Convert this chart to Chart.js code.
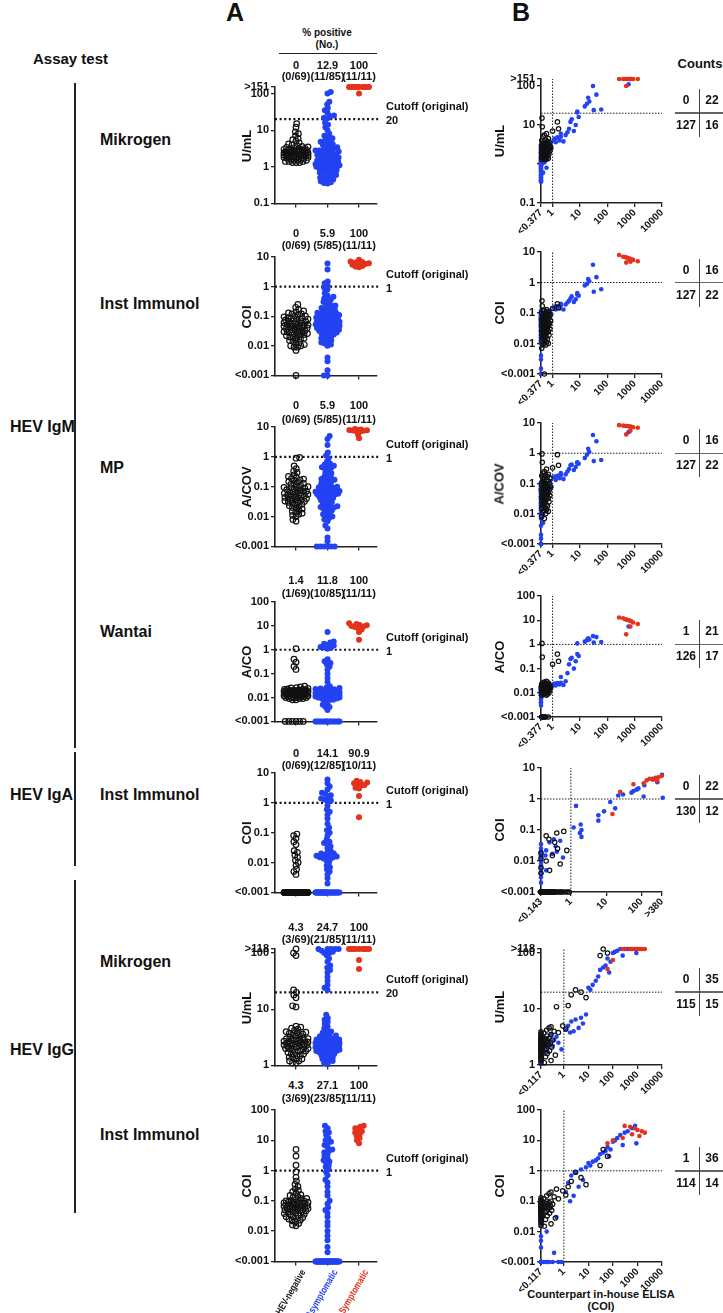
<!DOCTYPE html>
<html>
<head>
<meta charset="utf-8">
<script src="https://cdn.jsdelivr.net/npm/chart.js@4.4.1/dist/chart.umd.min.js"></script>
<style>
  body { margin: 0; background: #fff; }
  #page { position: relative; width: 723px; height: 1313px; overflow: hidden;
          font-family: 'Liberation Sans', Arial, sans-serif; font-weight: bold; color: #111; }
  .t { position: absolute; white-space: nowrap; transform: translate(-50%, -50%); line-height: 1; }
  .l { position: absolute; white-space: nowrap; transform: translate(0, -50%); line-height: 1; }
  .ln { position: absolute; background: #222; }
  .anchor { position: absolute; width: 0; height: 0; }
  .rot { position: absolute; right: 0; top: 0; white-space: nowrap; line-height: 1;
         transform-origin: 100% 0; transform: rotate(-60deg) scaleX(0.78); }
  canvas { position: absolute; }
</style>
</head>
<body>
<div id="page"></div>
<script>
var FONT = "'Liberation Sans', Arial, sans-serif";
var BLUE = '#2342f2', RED = '#e4321d', BLACK = '#111';

// ---- assay values (panel A, also y of panel B) ----
var neg1 = [15,12,9,8,7,6,5.5,5,4.5,4.2, 4,3.8,3.6,3.5,3.4,3.3,3.2,3.1,3,3, 2.9,2.9,2.8,2.8,2.7,2.7,2.6,2.6,2.6,2.5,
  2.5,2.5,2.4,2.4,2.4,2.4,2.3,2.3,2.3,2.3, 2.2,2.2,2.2,2.2,2.1,2.1,2.1,2,2,2, 1.9,1.9,1.9,1.8,1.8,1.8,1.7,1.7,1.6,1.6,
  1.5,1.5,1.5,1.4,1.4,1.4,1.3,1.3,1.3];
var pos1 = [110,100,60,50,40,35,30,25,24,22,21, 16,14,12,10,8,7,6.5,6,5.5,5, 4.8,4.5,4.2,4,3.8,3.6,3.4,3.2,3,3,
  2.8,2.8,2.6,2.6,2.5,2.4,2.3,2.2,2.1,2, 2,1.9,1.8,1.8,1.7,1.6,1.6,1.5,1.5,1.4, 1.4,1.3,1.3,1.2,1.2,1.2,1.1,1.1,1.1,1.1,
  1,1,1,0.95,0.9,0.9,0.85,0.8,0.8,0.75, 0.7,0.7,0.65,0.6,0.6,0.55,0.5,0.5,0.45,0.45, 0.4,0.38,0.36,0.35];
var sym1 = [151,151,151,151,151,151,151,151,151,151,100];

var neg2 = [0.25,0.2,0.17,0.15,0.14,0.13,0.12,0.12,0.11,0.1, 0.1,0.095,0.09,0.09,0.085,0.08,0.08,0.075,0.07,0.07,
  0.068,0.065,0.06,0.06,0.058,0.055,0.055,0.052,0.05,0.05, 0.048,0.046,0.045,0.044,0.042,0.04,0.04,0.038,0.036,0.035,
  0.034,0.032,0.03,0.03,0.029,0.028,0.027,0.026,0.025,0.024, 0.023,0.022,0.021,0.02,0.019,0.018,0.017,0.016,0.015,0.014,
  0.013,0.012,0.011,0.01,0.01,0.009,0.009,0.007,0.001];
var pos2 = [6,3.8,1.5,1.3,1.1, 0.9,0.8,0.6,0.5,0.45, 0.4,0.37,0.35,0.3,0.28,0.25,0.23,0.22,0.2,0.19,
  0.18,0.17,0.16,0.15,0.14,0.13,0.13,0.12,0.12,0.11, 0.11,0.1,0.1,0.095,0.09,0.09,0.085,0.08,0.08,0.075,
  0.072,0.07,0.068,0.065,0.062,0.06,0.06,0.058,0.055,0.052, 0.05,0.05,0.048,0.046,0.044,0.042,0.04,0.04,0.038,0.036,
  0.035,0.034,0.032,0.03,0.03,0.028,0.026,0.025,0.024,0.022, 0.02,0.019,0.018,0.016,0.015,0.014,0.013,0.012,0.011,0.01,
  0.004,0.003,0.0015,0.001,0.001];
var sym2 = [8,7,6.8,6.5,6.2,6,5.8,5.5,5,4.8,4.5];

var neg3 = [0.95,0.9,0.5,0.4,0.33,0.3,0.25,0.22,0.2,0.19, 0.18,0.17,0.16,0.15,0.14,0.13,0.12,0.12,0.11,0.1,
  0.1,0.095,0.09,0.09,0.085,0.08,0.08,0.075,0.07,0.07, 0.068,0.065,0.062,0.06,0.058,0.055,0.053,0.05,0.05,0.048,
  0.046,0.044,0.042,0.04,0.04,0.038,0.036,0.035,0.033,0.032, 0.03,0.03,0.028,0.026,0.025,0.023,0.022,0.02,0.019,0.018,
  0.016,0.015,0.014,0.013,0.012,0.011,0.01,0.008,0.007];
var pos3 = [5,4,2.5,1.4,1.1, 0.9,0.7,0.6,0.55,0.5, 0.48,0.45,0.42,0.4,0.35,0.3,0.28,0.25,0.22,0.2,
  0.19,0.18,0.17,0.16,0.15,0.14,0.13,0.12,0.11,0.1, 0.1,0.095,0.09,0.085,0.08,0.075,0.072,0.07,0.068,0.066,
  0.065,0.064,0.063,0.062,0.06,0.058,0.056,0.054,0.052,0.05, 0.048,0.045,0.042,0.04,0.038,0.035,0.032,0.03,0.028,0.025,
  0.023,0.022,0.021,0.02,0.019,0.018,0.016,0.015,0.013,0.012, 0.011,0.01,0.009,0.008,0.007,0.005,0.004,0.002,0.0015,0.001,
  0.001,0.001,0.001,0.001,0.001];
var sym3 = [8.5,8.2,8,8,7.8,7.6,7.5,7.2,7,5.5,4.2];

var neg4 = [1.1,0.4,0.3,0.2,0.15, 0.03,0.028,0.026,0.025,0.024, 0.023,0.022,0.022,0.021,0.021,0.02,0.02,0.02,0.019,0.019,
  0.019,0.018,0.018,0.018,0.018,0.017,0.017,0.017,0.017,0.016, 0.016,0.016,0.016,0.015,0.015,0.015,0.015,0.014,0.014,0.014,
  0.014,0.013,0.013,0.013,0.013,0.012,0.012,0.012,0.012,0.011, 0.011,0.011,0.011,0.01,0.01,0.01,0.01,0.01,0.009,0.009,
  0.009,0.008,0.008,0.001,0.001,0.001,0.001,0.001,0.001];
var pos4 = [5.5,2.2,2,1.8,1.6,1.5,1.3,1.25,1.2,1.1, 0.4,0.33,0.28,0.25,0.2,0.15,0.1,0.065,0.045,0.03,
  0.026,0.025,0.024,0.023,0.022,0.021,0.02,0.02,0.02,0.019, 0.019,0.018,0.018,0.018,0.017,0.017,0.017,0.016,0.016,0.016,
  0.016,0.015,0.015,0.015,0.014,0.014,0.014,0.013,0.013,0.013, 0.012,0.012,0.012,0.011,0.011,0.011,0.01,0.01,0.01,0.009,
  0.009,0.008,0.008,0.007,0.006,0.005,0.004,0.004,0.003,0.001, 0.001,0.001,0.001,0.001,0.001,0.001,0.001,0.001,0.001,0.001,
  0.001,0.001,0.001,0.001,0.001];
var sym4 = [13,12,11,10.5,10,9.5,9,8,7,5.5,2.6];

var neg5 = [0.09,0.08,0.065,0.05,0.04,0.025,0.022,0.018,0.015,0.012,0.01,0.008,0.006,0.005,0.004,
  0.001,0.001,0.001,0.001,0.001,0.001,0.001,0.001,0.001,0.001, 0.001,0.001,0.001,0.001,0.001,0.001,0.001,0.001,0.001,0.001,
  0.001,0.001,0.001,0.001,0.001,0.001,0.001,0.001,0.001,0.001, 0.001,0.001,0.001,0.001,0.001,0.001,0.001,0.001,0.001,0.001,
  0.001,0.001,0.001,0.001,0.001,0.001,0.001,0.001,0.001,0.001, 0.001,0.001,0.001,0.001];
var pos5 = [6,4.5,3.5,2.8,2.2,2,1.8,1.6,1.4,1.3,1.2,1.1, 0.8,0.6,0.5,0.4,0.3,0.2,0.15,0.12,0.1,0.08,
  0.06,0.05,0.045,0.04,0.035,0.03,0.025,0.022,0.02,0.02, 0.018,0.018,0.017,0.016,0.016,0.015,0.015,0.014,0.013,0.012,
  0.01,0.008,0.007,0.006,0.005,0.004,0.003,0.002,
  0.001,0.001,0.001,0.001,0.001,0.001,0.001,0.001,0.001,0.001, 0.001,0.001,0.001,0.001,0.001,0.001,0.001,0.001,0.001,0.001,
  0.001,0.001,0.001,0.001,0.001,0.001,0.001,0.001,0.001,0.001, 0.001,0.001,0.001,0.001,0.001];
var sym5 = [5.5,5,4.8,4.5,4.2,4,3.8,3.2,3,1.7,0.33];

var neg6 = [118,100,90,22,20,18,16,11.5,11,5, 4.8,4.6,4.4,4.2,4,3.9,3.8,3.7,3.6,3.5, 3.4,3.3,3.2,3.1,3,3,2.9,2.9,2.8,2.8,
  2.7,2.7,2.6,2.6,2.5,2.5,2.5,2.4,2.4,2.4, 2.3,2.3,2.3,2.2,2.2,2.2,2.1,2.1,2,2, 2,1.9,1.9,1.8,1.8,1.7,1.7,1.6,1.6,1.5,
  1.5,1.4,1.4,1.3,1.3,1.2,1.2,1.1,1.1];
var pos6 = [118,118,118,118,118,110,105,100,100,90, 80,70,60,55,50,45,38,32,27,24, 22, 8,7,6.5,6,5.5,5,4.6,4.3,4,
  3.8,3.6,3.5,3.4,3.3,3.2,3.1,3,3,2.9, 2.9,2.8,2.8,2.7,2.7,2.6,2.6,2.5,2.5,2.5, 2.4,2.4,2.4,2.3,2.3,2.3,2.2,2.2,2.2,2.1,
  2.1,2.1,2,2,2,1.9,1.9,1.9,1.8,1.8, 1.8,1.7,1.7,1.6,1.6,1.5,1.5,1.4,1.4,1.3, 1.3,1.2,1.2,1.1,1.05];
var sym6 = [118,118,118,118,118,118,118,118,118,75,52];

var neg7 = [5,3,1.5,0.9,0.6,0.45,0.35,0.3,0.25,0.22, 0.2,0.18,0.16,0.15,0.14,0.13,0.12,0.12,0.11,0.1,
  0.1,0.1,0.095,0.09,0.09,0.09,0.085,0.085,0.08,0.08, 0.08,0.075,0.075,0.07,0.07,0.07,0.068,0.066,0.065,0.063,
  0.06,0.06,0.058,0.056,0.055,0.053,0.05,0.05,0.048,0.046, 0.045,0.043,0.04,0.04,0.038,0.036,0.035,0.033,0.03,0.03,
  0.028,0.026,0.025,0.023,0.022,0.02,0.018,0.016,0.015];
var pos7 = [30,25,20,18,15,12,10,9,8,7, 6,5,4.5,4,3.5,3,2.6,2.2,2,1.8, 1.5,1.3,1.1,
  0.9,0.7,0.5,0.4,0.3,0.2,0.15, 0.1,0.08,0.06,0.05,0.04,0.03,0.02,0.015,0.01,0.007, 0.005,0.003,0.002,
  0.001,0.001,0.001,0.001,0.001,0.001,0.001,0.001,0.001,0.001, 0.001,0.001,0.001,0.001,0.001,0.001,0.001,0.001,0.001,0.001,
  0.001,0.001,0.001,0.001,0.001,0.001,0.001,0.001,0.001,0.001, 0.001,0.001,0.001,0.001,0.001,0.001,0.001,0.001,0.001,0.001,
  0.001,0.001];
var sym7 = [30,28,25,22,20,18,16,14,12,10,8];

// ---- counterpart in-house ELISA (x of panel B), same sample order ----
var igmNegX = [0.41,1.5,0.42,1.65,1,0.6,0.5,0.45,0.7,0.55, 0.4,0.65,0.5,0.8,0.45,0.6,0.7,0.5,0.42,0.55,
  0.75,0.48,0.62,0.4,0.52,0.85,0.45,0.58,0.68,0.5, 0.42,0.78,0.55,0.47,0.62,0.4,0.5,0.72,0.58,0.45,
  0.66,0.52,0.42,0.8,0.56,0.48,0.6,0.4,0.7,0.5, 0.44,0.62,0.54,0.4,0.74,0.5,0.46,0.58,0.42,0.65,
  0.52,0.4,0.6,0.48,0.7,0.44,0.56,0.4,0.5];
var igmAsymX = [600,30,40,20,22,18,15,60,32,8, 8,9,5,4.5,7,4,6,3.5,2,3, 2,1.5,1.2,1.1,1.8,2.5,1.3,
  0.8,0.377,0.6,0.377,0.377,0.5,0.377,0.377,0.9,0.377, 0.377,0.45,0.377,0.377,0.7,0.377,0.377,0.377,0.55,0.377,
  0.377,0.377,0.42,0.377,0.377,0.377,0.65,0.377,0.377,0.377, 0.377,0.5,0.377,0.377,0.377,0.377,0.4,0.377,0.377,0.377,
  0.377,0.377,0.6,0.377,0.377,0.377,0.377,0.377,0.45,0.377, 0.377,0.377,0.377,0.377,0.377,0.377,0.377,0.377];
var igmSymX = [270,380,450,530,600,680,750,880,1300,700,490];

var igaNegX = [0.63,0.4,0.2,0.24,0.35,0.42,0.77,0.143,0.3,0.143,0.2,0.5,0.143,0.25,0.143,
  0.143,0.16,0.18,0.2,0.22,0.25,0.28,0.3,0.33,0.36, 0.4,0.45,0.5,0.55,0.6,0.7,0.8,0.9,0.143,0.15,
  0.17,0.19,0.21,0.24,0.27,0.143,0.143,0.16,0.18,0.143, 0.2,0.23,0.143,0.26,0.143,0.3,0.143,0.35,0.143,0.143,
  0.143,0.143,0.143,0.143,0.143,0.143,0.143,0.143,0.143,0.143, 0.143,0.143,0.143,0.143];
var igaAsymX = [380,210,280,120,82,72,59,52,30,22,115,400, 13,1.4,18,8.7,6,6,1.9,1.2,2,1.8,2,
  0.33,0.5,0.25,0.143,0.37,0.143,0.2,0.143,0.4,0.143, 0.143,0.3,0.143,0.143,0.19,0.143,0.143,0.6,0.143,0.143,
  0.143,0.143,0.143,0.2,0.143,0.143,0.143,
  0.143,0.2,0.143,0.3,0.143,0.143,0.18,0.143,0.143,0.25, 0.143,0.143,0.143,0.143,0.5,0.143,0.143,0.143,0.16,0.143,
  0.143,0.143,0.143,0.143,0.143,0.143,0.143,0.143,0.143,0.143, 0.143,0.143,0.143,0.143,0.143];
var igaSymX = [370,300,250,170,210,140,280,115,59,25,15];

var iggNegX = [40,60,30,3,5,2,8,1.5,0.5,0.9, 0.3,0.25,1.2,0.2,0.4,0.117,0.6,0.15,0.117,0.3,
  0.117,0.2,0.13,0.117,0.25,0.117,0.18,0.117,0.14,0.35, 0.117,0.22,0.117,0.16,0.117,0.28,0.117,0.12,0.19,0.117,
  0.117,0.24,0.117,0.15,0.117,0.13,0.32,0.117,0.2,0.117, 0.117,0.17,0.117,0.26,0.117,0.14,0.117,0.21,0.117,0.117,
  0.45,0.117,0.18,0.117,0.12,0.117,0.3,0.117,0.16];
var iggAsymX = [800,600,400,300,200,150,120,100,900,250, 60,80,50,40,30,70,25,20,15,10, 12,8,5,3,2,6,1.5,4,1.2,2.5,
  1.8,0.117,0.3,0.117,0.117,0.5,0.117,0.117,0.2,0.117, 0.117,0.117,0.4,0.117,0.117,0.15,0.117,0.117,0.117,0.6,
  0.117,0.117,0.25,0.117,0.117,0.117,0.117,0.35,0.117,0.117, 0.117,0.18,0.117,0.117,0.117,0.117,0.117,0.8,0.117,0.117,
  0.117,0.117,0.22,0.117,0.117,0.117,0.117,0.117,0.117,0.117, 0.117,0.117,0.117,0.117,0.117];
var iggSymX = [300,500,800,1000,1500,2000,600,1200,250,100,60];

// ---- ticks, labels, texts ----
var yt151 = [151,100,10,1,0.1], yl151 = ['>151','100','10','1','0.1'];
var yt10 = [10,1,0.1,0.01,0.001], yl10 = ['10','1','0.1','0.01','<0.001'];
var yt100 = [100,10,1,0.1,0.01,0.001], yl100 = ['100','10','1','0.1','0.01','<0.001'];
var yt118 = [118,100,10,1], yl118 = ['>118','100','10','1'];
var xtIgm = [0.377,1,10,100,1000,10000], xlIgm = ['<0.377','1','10','100','1000','10000'];
var xtIga = [0.143,1,10,100,380], xlIga = ['<0.143','1','10','100','>380'];
var xtIgg = [0.117,1,10,100,1000,10000], xlIgg = ['<0.117','1','10','100','1000','10000'];

var groups = ['HEV-negative','Asymptomatic','Symptomatic'];
var assays = ['Mikrogen','Inst Immunol','MP','Wantai','Inst Immunol','Mikrogen','Inst Immunol'];
var units = ['U/mL','COI','A/COV','A/CO','COI','U/mL','COI'];
var cutoffs = [20,1,1,1,1,20,1];
var pctPos = [['0','12.9','100'],['0','5.9','100'],['0','5.9','100'],['1.4','11.8','100'],
  ['0','14.1','90.9'],['4.3','24.7','100'],['4.3','27.1','100']];
var nPos = [['(0/69)','(11/85)','(11/11)'],['(0/69)','(5/85)','(11/11)'],['(0/69)','(5/85)','(11/11)'],
  ['(1/69)','(10/85)','(11/11)'],['(0/69)','(12/85)','(10/11)'],['(3/69)','(21/85)','(11/11)'],['(3/69)','(23/85)','(11/11)']];
var counts = [[0,22,127,16],[0,16,127,22],[0,16,127,22],[1,21,126,17],[0,22,130,12],[0,35,115,15],[1,36,114,14]];

var rowVals = [[neg1,pos1,sym1],[neg2,pos2,sym2],[neg3,pos3,sym3],[neg4,pos4,sym4],[neg5,pos5,sym5],[neg6,pos6,sym6],[neg7,pos7,sym7]];
var rowYT = [yt151,yt10,yt10,yt100,yt10,yt118,yt100];
var rowYL = [yl151,yl10,yl10,yl100,yl10,yl118,yl100];
var rowYLB = [['>151','100','10','','0.1'],yl10,yl10,yl100,yl10,yl118,yl100];
var inHouse = {
  igm: { x: [igmNegX, igmAsymX, igmSymX], ticks: xtIgm, labels: xlIgm },
  iga: { x: [igaNegX, igaAsymX, igaSymX], ticks: xtIga, labels: xlIga },
  igg: { x: [iggNegX, iggAsymX, iggSymX], ticks: xtIgg, labels: xlIgg }
};
var rowClass = ['igm','igm','igm','igm','iga','igg','igg'];

// ---- layout (pixels) ----
var aLay = [{top:87,bot:204,hdr:[65,76]},{top:257,bot:376,hdr:[233,245]},{top:427,bot:547,hdr:[405,419]},
  {top:602,bot:722,hdr:[580,593]},{top:773,bot:893,hdr:[753,765]},{top:949,bot:1066,hdr:[927,939]},{top:1110,bot:1262,hdr:[1085,1098]}];
var bLay = [{top:79,bot:203},{top:252,bot:374},{top:423,bot:544},{top:596,bot:717},{top:768,bot:892},{top:949,bot:1065},{top:1110,bot:1262}];
var assayY = [140,304,468,632,795,962,1135];
var groupColors = [BLACK, BLUE, RED];

Chart.defaults.font.family = FONT;
Chart.defaults.font.weight = 'bold';
Chart.defaults.color = '#111';

var page = document.getElementById('page');

function put(s, x, y, size, cls, color, transform) {
  var d = document.createElement('div');
  d.className = cls || 't';
  d.textContent = s;
  d.style.left = x + 'px';
  d.style.top = y + 'px';
  d.style.fontSize = size + 'px';
  if (color) d.style.color = color;
  if (transform) d.style.transform = transform;
  page.appendChild(d);
  return d;
}

function bar(x, y, w, h, color) {
  var d = document.createElement('div');
  d.className = 'ln';
  d.style.left = x + 'px'; d.style.top = y + 'px';
  d.style.width = w + 'px'; d.style.height = h + 'px';
  if (color) d.style.background = color;
  page.appendChild(d);
}

// rotated category label whose end sits at (x, y)
function slanted(s, x, y, size, color) {
  var a = document.createElement('div');
  a.className = 'anchor';
  a.style.left = x + 'px'; a.style.top = y + 'px';
  var d = document.createElement('div');
  d.className = 'rot';
  d.textContent = s;
  d.style.fontSize = size + 'px';
  d.style.color = color;
  a.appendChild(d);
  page.appendChild(a);
}

var cutoffPlugin = {
  id: 'cutoffs',
  beforeDatasetsDraw: function (chart, args, o) {
    var ctx = chart.ctx, a = chart.chartArea;
    ctx.save();
    ctx.strokeStyle = o.color || '#111';
    ctx.lineWidth = o.width || 1;
    ctx.setLineDash(o.dash || [2, 2]);
    if (o.y != null) {
      var py = chart.scales.y.getPixelForValue(o.y);
      ctx.beginPath(); ctx.moveTo(a.left, py); ctx.lineTo(a.right + (o.extend || 0), py); ctx.stroke();
    }
    if (o.x != null) {
      var px = chart.scales.x.getPixelForValue(o.x);
      ctx.beginPath(); ctx.moveTo(px, a.bottom); ctx.lineTo(px, a.top); ctx.stroke();
    }
    ctx.restore();
  }
};

function logAxis(ticks, labels, opts) {
  return {
    type: 'logarithmic',
    min: Math.min.apply(null, ticks),
    max: Math.max.apply(null, ticks),
    afterBuildTicks: function (s) { s.ticks = ticks.map(function (v) { return { value: v }; }); },
    afterFit: function (s) { if (opts.width) s.width = opts.width; if (opts.height) s.height = opts.height; },
    grid: { drawOnChartArea: false, drawTicks: true, tickLength: 4, color: '#222', lineWidth: 1.3 },
    border: { display: true, color: '#222', width: 1.6 },
    ticks: {
      autoSkip: false, padding: opts.pad != null ? opts.pad : 2, color: '#111',
      minRotation: opts.rot || 0, maxRotation: opts.rot || 0,
      font: { family: FONT, size: opts.size || 11, weight: 'bold' },
      callback: function (v, i) { return labels[i]; }
    }
  };
}

// simple beeswarm: spread points of one column sideways so they do not overlap
function swarm(chart, dsIdx, center, d, maxHalf) {
  var ds = chart.data.datasets[dsIdx];
  var ys = chart.scales.y, xs = chart.scales.x;
  var unit = xs.getPixelForValue(1) - xs.getPixelForValue(0);
  var pts = ds.data.map(function (p, i) { return { i: i, y: ys.getPixelForValue(p.y), x: 0 }; });
  pts.sort(function (a, b) { return b.y - a.y; });
  var placed = [];
  pts.forEach(function (p, k) {
    var near = placed.filter(function (q) { return Math.abs(q.y - p.y) < d; });
    var cands = [0];
    near.forEach(function (q) {
      var dx = Math.sqrt(d * d - (q.y - p.y) * (q.y - p.y));
      cands.push(q.x + dx, q.x - dx);
    });
    var side = k % 2 ? 1 : -1;
    cands.sort(function (a, b) { return (Math.abs(a) - Math.abs(b)) || side * (a - b); });
    var ok = function (c) {
      return near.every(function (q) { return (c - q.x) * (c - q.x) + (p.y - q.y) * (p.y - q.y) >= d * d - 0.01; });
    };
    var best = null;
    for (var j = 0; j < cands.length; j++) {
      if (Math.abs(cands[j]) <= maxHalf && ok(cands[j])) { best = cands[j]; break; }
    }
    if (best === null) {
      var score = -1;
      for (var c = -maxHalf; c <= maxHalf; c += 0.5) {
        var m = near.reduce(function (acc, q) { return Math.min(acc, Math.hypot(c - q.x, p.y - q.y)); }, 1e9);
        if (m > score + 1e-6) { score = m; best = c; }
      }
    }
    p.x = best;
    placed.push(p);
  });
  pts.forEach(function (p) { ds.data[p.i].x = center + p.x / unit; });
}

function pointStyle(g, r) {
  if (g === 0) return { pointRadius: r, pointBackgroundColor: 'rgba(255,255,255,0)', pointBorderColor: BLACK, pointBorderWidth: 1.2 };
  return { pointRadius: r, pointBackgroundColor: groupColors[g], pointBorderColor: groupColors[g], pointBorderWidth: 0 };
}

function makeA(k) {
  var L = aLay[k], last = k === aLay.length - 1;
  var yW = 40, padTop = 10, padR = 12, xH = 8;
  var cv = document.createElement('canvas');
  cv.width = yW + 102 + padR;
  cv.height = padTop + (L.bot - L.top) + xH;
  cv.style.left = (275 - yW) + 'px';
  cv.style.top = (L.top - padTop) + 'px';
  page.appendChild(cv);
  var order = [2, 0, 1];
  var datasets = order.map(function (g) {
    var o = pointStyle(g, g === 0 ? 2.8 : 3);
    o.data = rowVals[k][g].map(function (v) { return { x: g, y: v }; });
    o.clip = false;
    return o;
  });
  var xAxis = {
    type: 'linear', min: -0.667, max: 2.571,
    afterBuildTicks: function (s) { s.ticks = [0, 1, 2].map(function (v) { return { value: v }; }); },
    afterFit: function (s) { s.height = xH; },
    grid: { drawOnChartArea: false, drawTicks: true, tickLength: 4, color: '#222', lineWidth: 1.3 },
    border: { display: true, color: '#222', width: 1.6 },
    ticks: { autoSkip: false, callback: function () { return ''; } }
  };
  var chart = new Chart(cv.getContext('2d'), {
    type: 'scatter',
    data: { datasets: datasets },
    options: {
      responsive: false, animation: false, events: [],
      layout: { padding: { top: padTop, right: padR, left: 0, bottom: 0 } },
      plugins: { legend: { display: false }, tooltip: { enabled: false },
        cutoffs: { y: cutoffs[k], dash: [2, 2.6], width: 2.2, color: '#111', extend: 2 } },
      scales: { x: xAxis, y: logAxis(rowYT[k], rowYL[k], { width: yW }) }
    },
    plugins: [cutoffPlugin]
  });
  order.forEach(function (g, di) { swarm(chart, di, g, 3.6, g === 2 ? 10 : 12); });
  chart.update('none');

  var top = L.top - padTop, left = 275 - yW;
  [0, 1, 2].forEach(function (g) {
    var cx = left + chart.scales.x.getPixelForValue(g);
    put(pctPos[k][g], cx, L.hdr[0], 11);
    put(nPos[k][g], cx, L.hdr[1], 11);
    if (last) slanted(groups[g], cx + 3, L.bot + 6, 10, groupColors[g]);
  });
  var cy = top + chart.scales.y.getPixelForValue(cutoffs[k]);
  put('Cutoff (original)', 386, cy - 13, 11, 'l');
  put(String(cutoffs[k]), 386, cy + 1, 11, 'l');
  put(units[k], 246, (L.top + L.bot) / 2, 13, 't', null, 'translate(-50%,-50%) rotate(-90deg)');
}

function makeB(k) {
  var L = bLay[k], h = inHouse[rowClass[k]];
  var yW = 40, padTop = 10, padR = 14, xH = 40;
  var cv = document.createElement('canvas');
  cv.width = yW + 121 + padR;
  cv.height = padTop + (L.bot - L.top) + xH;
  cv.style.left = (541 - yW) + 'px';
  cv.style.top = (L.top - padTop) + 'px';
  page.appendChild(cv);
  var order = [2, 0, 1];
  var datasets = order.map(function (g) {
    var o = pointStyle(g, g === 0 ? 2.2 : 2.3);
    var xs = h.x[g];
    o.data = rowVals[k][g].map(function (v, i) { return { x: xs[i], y: v }; });
    o.clip = false;
    return o;
  });
  var chart = new Chart(cv.getContext('2d'), {
    type: 'scatter',
    data: { datasets: datasets },
    options: {
      responsive: false, animation: false, events: [],
      layout: { padding: { top: padTop, right: padR, left: 0, bottom: 0 } },
      plugins: { legend: { display: false }, tooltip: { enabled: false },
        cutoffs: { y: cutoffs[k], x: 1, dash: [1.5, 1.5], width: 1, color: '#222' } },
      scales: {
        x: logAxis(h.ticks, h.labels, { height: xH, rot: 45, size: 10, pad: 0 }),
        y: logAxis(rowYT[k], rowYLB[k], { width: yW })
      }
    },
    plugins: [cutoffPlugin]
  });
  var top = L.top - padTop;
  var cy = top + chart.scales.y.getPixelForValue(cutoffs[k]);
  put(units[k], 499, (L.top + L.bot) / 2, 13, 't', null, 'translate(-50%,-50%) rotate(-90deg)');
  var c = counts[k];
  bar(675, cy - 0.75, 48, 1.5, '#666');
  bar(698.5, cy - 24, 1.5, 48, '#444');
  put(String(c[0]), 686, cy - 13, 12);
  put(String(c[1]), 712, cy - 13, 12);
  put(String(c[2]), 686, cy + 12, 12);
  put(String(c[3]), 712, cy + 12, 12);
}

// headers and left labels
put('A', 235, 12, 25);
put('B', 521, 12, 25);
put('% positive', 327, 33, 10);
put('(No.)', 327, 45, 10);
bar(279, 52.5, 98, 1, '#222');
put('Counts', 700, 63, 13);
put('Assay test', 33, 58, 15, 'l');
put('HEV IgM', 10, 427, 16, 'l');
put('HEV IgA', 10, 795, 16, 'l');
put('HEV IgG', 10, 1050, 16, 'l');
bar(74, 83, 1.6, 665);
bar(74, 752, 1.6, 114);
bar(74, 880, 1.6, 333);
assays.forEach(function (s, k) { put(s, 100, assayY[k], 16, 'l'); });
put('Counterpart in-house ELISA', 601, 1294, 11);
put('(COI)', 601, 1306, 11);

for (var k = 0; k < aLay.length; k++) { makeA(k); makeB(k); }
</script>
</body>
</html>
